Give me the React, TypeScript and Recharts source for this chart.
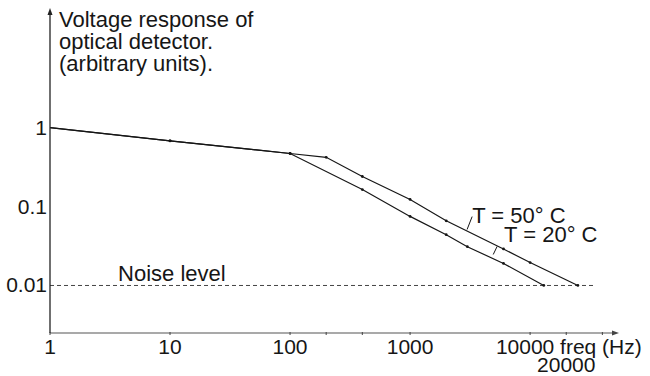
import {
  ComposedChart,
  Line,
  XAxis,
  YAxis,
  ReferenceLine,
  ReferenceDot,
} from 'recharts'

// frequency (Hz) / response (arbitrary units)
const hotFreq = [1, 10, 100, 200, 400, 1000, 2000, 6000, 10000, 25000]
const hotResp = [1, 0.68, 0.47, 0.42, 0.24, 0.123, 0.066, 0.029, 0.0195, 0.01]
const coldFreq = [1, 10, 100, 400, 1000, 2000, 3000, 6000, 13000]
const coldResp = [1, 0.68, 0.47, 0.164, 0.075, 0.044, 0.031, 0.019, 0.01]

const noiseLevel = 0.01
const noiseEndFreq = 33500

const xTicks = [1, 10, 100, 200, 400, 1000, 10000, 20000, 40000]
const xTickLabels = ['1', '10', '100', '', '', '1000', '10000', '20000', '']
const yTicks = [0.01, 0.1, 1]
const yTickLabels = ['0.01', '0.1', '1']

const titleLines = ['Voltage response of', 'optical detector.', '(arbitrary units).']

const FONT = '"Liberation Sans", Arial, Helvetica, sans-serif'
const INK = '#161616'

const hotData = hotFreq.map((f, i) => ({ f, r: hotResp[i] }))
const coldData = coldFreq.map((f, i) => ({ f, r: coldResp[i] }))

function XTick(props: any) {
  const { x, y, payload } = props
  const idx = xTicks.indexOf(payload.value)
  const label = xTickLabels[idx] ?? ''
  const lower = payload.value === 20000
  const big = payload.value === 10000
  return (
    <g>
      <line x1={x} y1={y} x2={x} y2={y - 3} stroke="#444" strokeWidth={1} />
      {label && (
        <text
          x={big ? x - 5 : x}
          y={lower ? y + 37 : y + 19}
          textAnchor="middle"
          fontFamily={FONT}
          fontSize={21}
          fill={INK}
        >
          {label}
        </text>
      )}
      {big && (
        <text x={x + 30} y={y + 19} textAnchor="start" fontFamily={FONT} fontSize={21} fill={INK}>
          freq (Hz)
        </text>
      )}
    </g>
  )
}

function YTick(props: any) {
  const { x, y, payload } = props
  const label = yTickLabels[yTicks.indexOf(payload.value)] ?? ''
  return (
    <text x={x - 1} y={y + 7} textAnchor="end" fontFamily={FONT} fontSize={21} fill={INK}>
      {label}
    </text>
  )
}

// small marks along the curves, none at the start
const dotMark = (props: any) => {
  const { cx, cy, index } = props
  if (index === 0) return <g key={`d${index}`} />
  return <circle key={`d${index}`} cx={cx} cy={cy} r={1.4} fill={INK} />
}

const textAt = (txt: string) => (props: any) =>
  (
    <text x={props.cx} y={props.cy} fontFamily={FONT} fontSize={22} fill={INK}>
      {txt}
    </text>
  )

export default function App() {
  return (
    <div
      style={{
        position: 'absolute',
        left: 0,
        top: 0,
        width: 650,
        height: 376,
        background: '#fff',
        fontFamily: FONT,
      }}
    >
      <ComposedChart
        width={650}
        height={376}
        margin={{ top: 11, right: 36, left: 0, bottom: 0 }}
      >
        <XAxis
          dataKey="f"
          type="number"
          scale="log"
          domain={[1, 50000]}
          allowDataOverflow
          ticks={xTicks}
          interval={0}
          tick={<XTick />}
          tickLine={false}
          tickSize={0}
          height={43}
          stroke="#555"
          axisLine={{ stroke: '#555', strokeWidth: 1.2 }}
        />
        <YAxis
          type="number"
          scale="log"
          domain={[0.0025, 30]}
          allowDataOverflow
          ticks={yTicks}
          interval={0}
          tick={<YTick />}
          tickLine={false}
          tickSize={0}
          width={50}
          axisLine={{ stroke: '#222', strokeWidth: 1.3 }}
        />
        <ReferenceLine
          segment={[
            { x: 1, y: noiseLevel },
            { x: noiseEndFreq, y: noiseLevel },
          ]}
          stroke="#444"
          strokeWidth={1}
          strokeDasharray="4 3"
          ifOverflow="visible"
        />
        <Line
          data={hotData}
          dataKey="r"
          type="linear"
          stroke={INK}
          strokeWidth={1.2}
          dot={dotMark}
          activeDot={false}
          isAnimationActive={false}
        />
        <Line
          data={coldData}
          dataKey="r"
          type="linear"
          stroke={INK}
          strokeWidth={1.2}
          dot={dotMark}
          activeDot={false}
          isAnimationActive={false}
        />
        {/* leader ticks for the curve labels */}
        <ReferenceLine
          segment={[
            { x: 2985, y: 0.0512 },
            { x: 3290, y: 0.0746 },
          ]}
          stroke={INK}
          strokeWidth={1}
        />
        <ReferenceLine
          segment={[
            { x: 4930, y: 0.0247 },
            { x: 5310, y: 0.0312 },
          ]}
          stroke={INK}
          strokeWidth={1}
        />
        <ReferenceDot x={3290} y={0.0627} r={0} shape={textAt('T = 50° C')} />
        <ReferenceDot x={6070} y={0.036} r={0} shape={textAt('T = 20° C')} />
        <ReferenceDot x={3.69} y={0.01125} r={0} shape={textAt('Noise level')} />
        {/* axis arrow heads */}
        <ReferenceDot
          x={1}
          y={30}
          r={0}
          ifOverflow="visible"
          shape={(p: any) => (
            <path d={`M${p.cx - 2.5},${p.cy + 4} L${p.cx},${p.cy - 3} L${p.cx + 2.5},${p.cy + 4} Z`} fill="#222" />
          )}
        />
        <ReferenceDot
          x={50000}
          y={0.0025}
          r={0}
          ifOverflow="visible"
          shape={(p: any) => (
            <path d={`M${p.cx - 2},${p.cy - 2.5} L${p.cx + 5},${p.cy} L${p.cx - 2},${p.cy + 2.5} Z`} fill="#444" />
          )}
        />
      </ComposedChart>
      <div
        style={{
          position: 'absolute',
          left: 59,
          top: 9,
          fontSize: 22,
          lineHeight: '22px',
          color: INK,
          whiteSpace: 'nowrap',
        }}
      >
        {titleLines.map((t) => (
          <div key={t}>{t}</div>
        ))}
      </div>
    </div>
  )
}
